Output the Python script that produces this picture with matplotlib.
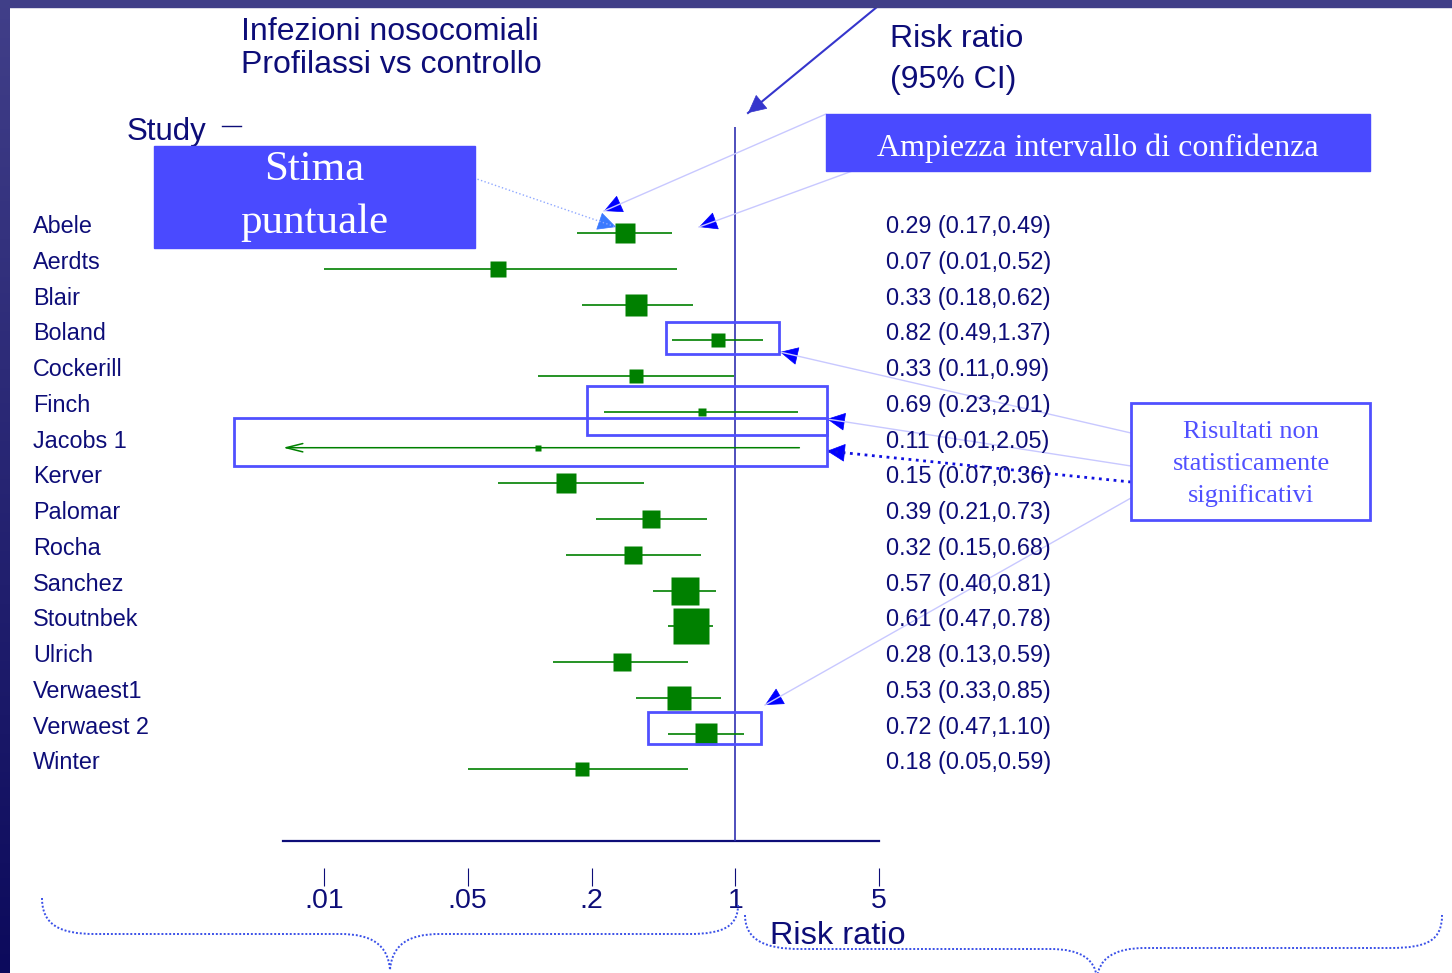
import numpy as np
import matplotlib
matplotlib.use("Agg")
import matplotlib.pyplot as plt
import matplotlib.transforms as mtrans
from matplotlib.patches import Rectangle, PathPatch
from matplotlib.path import Path
from matplotlib.ticker import NullLocator

# Studies: risk ratio, 95% CI and relative weight (%)
studies = ["Abele", "Aerdts", "Blair", "Boland", "Cockerill", "Finch", "Jacobs 1",
           "Kerver", "Palomar", "Rocha", "Sanchez", "Stoutnbek", "Ulrich",
           "Verwaest1", "Verwaest 2", "Winter"]
rr = [0.29, 0.07, 0.33, 0.82, 0.33, 0.69, 0.11, 0.15, 0.39, 0.32, 0.57, 0.61,
      0.28, 0.53, 0.72, 0.18]
ci_low = [0.17, 0.01, 0.18, 0.49, 0.11, 0.23, 0.01, 0.07, 0.21, 0.15, 0.40, 0.47,
          0.13, 0.33, 0.47, 0.05]
ci_high = [0.49, 0.52, 0.62, 1.37, 0.99, 2.01, 2.05, 0.36, 0.73, 0.68, 0.81, 0.78,
           0.59, 0.85, 1.10, 0.59]
weight = [6.1, 3.9, 7.4, 3.0, 2.6, 1.2, 0.7, 6.7, 5.5, 4.9, 12.8, 20.8, 4.9, 8.8,
          7.4, 3.4]
off_scale = ["Jacobs 1"]  # lower limit runs past the left edge of the scale

xticks = [0.01, 0.05, 0.2, 1, 5]
xticklabels = [".01", ".05", ".2", "1", "5"]

W, H, DPI = 1452, 973, 100
NAVY = "#0d0d78"
GREEN = "#008000"
BOXBLUE = "#4a4aff"
LINEBLUE = "#5050ff"

plt.rcParams["font.family"] = ["Liberation Sans", "DejaVu Sans"]
fig = plt.figure(figsize=(W / DPI, H / DPI), dpi=DPI, facecolor="white")


def fp(x, y):
    # pixel position (from top-left) -> figure fraction
    return x / W, 1 - y / H


# slide frame: gradient bar on the left, flat bar on top
bar = fig.add_axes([0, 0, 10 / W, 1])
grad = np.linspace(0, 1, 256)[:, None]
top_c = np.array([0x41, 0x3f, 0x89]) / 255
bot_c = np.array([0x0c, 0x0a, 0x5c]) / 255
bar.imshow(top_c + grad[..., None] * (bot_c - top_c), aspect="auto")
bar.axis("off")
fig.patches.append(Rectangle(fp(0, 7), 1, 7 / H, transform=fig.transFigure,
                             color="#403f88", zorder=5))

# forest plot axes (log risk ratio scale)
x0, x1, y_top, y_bot = 283, 879, 127, 841
ax = fig.add_axes([x0 / W, 1 - y_bot / H, (x1 - x0) / W, (y_bot - y_top) / H])
ax.set_xscale("log")
xmin = 0.01 * 10 ** (-(324 - 283) / 206)
ax.set_xlim(xmin, 5)
ax.set_ylim(17.0, -2.97)
ax.patch.set_alpha(0)
for s in ["top", "left", "right"]:
    ax.spines[s].set_visible(False)
ax.spines["bottom"].set_position(("outward", 19.4))
ax.spines["bottom"].set_visible(False)
ax.set_yticks([])
ax.set_xticks(xticks)
ax.set_xticklabels(xticklabels)
ax.xaxis.set_minor_locator(NullLocator())
ax.tick_params(axis="x", direction="out", length=13, width=0.8, color=NAVY,
               labelcolor=NAVY, labelsize=20.5, pad=1.5)

ax.axhline(17.0, color=NAVY, lw=1.6, clip_on=False)
ax.axvline(1, color="#3030b0", lw=1.2)

rows = np.arange(len(studies))
for i, name in enumerate(studies):
    if name in off_scale:
        ax.annotate("", xy=(xmin, rows[i]), xytext=(ci_high[i], rows[i]),
                    arrowprops=dict(arrowstyle="->,head_length=1.2,head_width=0.3",
                                    color=GREEN, lw=1.1, mutation_scale=10,
                                    shrinkA=0, shrinkB=0))
    else:
        ax.hlines(rows[i], ci_low[i], ci_high[i], color=GREEN, lw=1.2)
    side_pt = 8.1 * np.sqrt(weight[i]) * 72 / DPI
    ax.plot(rr[i], rows[i], marker="s", ms=side_pt, color=GREEN, mec="none")

# study names and estimates, on the row baselines
tr = mtrans.blended_transform_factory(fig.transFigure, ax.transData)
for i, name in enumerate(studies):
    fig.text(33 / W, rows[i], name, transform=tr, fontsize=16.8, color=NAVY,
             va="baseline")
    fig.text(886 / W, rows[i], f"{rr[i]:.2f} ({ci_low[i]:.2f},{ci_high[i]:.2f})",
             transform=tr, fontsize=16.8, color=NAVY, va="baseline")

# headings
fig.text(*fp(241, 40), "Infezioni nosocomiali", fontsize=23, color=NAVY, va="baseline")
fig.text(*fp(241, 73), "Profilassi vs controllo", fontsize=23, color=NAVY, va="baseline")
fig.text(*fp(890, 47), "Risk ratio", fontsize=23, color=NAVY, va="baseline")
fig.text(*fp(890, 88), "(95% CI)", fontsize=23, color=NAVY, va="baseline")
fig.text(*fp(127, 140), "Study", fontsize=22.5, color=NAVY, va="baseline")
fig.add_artist(plt.Line2D([222 / W, 241 / W], [1 - 126 / H] * 2, color=NAVY, lw=1))
fig.text(*fp(770, 944), "Risk ratio", fontsize=23.4, color=NAVY, va="baseline")


def box(x, y, w, h, **kw):
    fig.patches.append(Rectangle(fp(x, y + h), w / W, h / H,
                                 transform=fig.transFigure, **kw))


def arrow(start, tip, line_color, head_color, ls="-", lw=1.0):
    (sx, sy), (tx, ty) = fp(*start), fp(*tip)
    fig.add_artist(plt.Line2D([sx, tx], [sy, ty], color=line_color, lw=lw, ls=ls))
    d = np.array(tip, float) - np.array(start, float)
    back = np.array(tip) - d / np.hypot(*d) * 15
    fig.add_artist(matplotlib.patches.FancyArrowPatch(
        fp(*back), fp(*tip), transform=fig.transFigure,
        arrowstyle="-|>,head_length=0.6,head_width=0.3", mutation_scale=20,
        color=head_color, lw=0.5, shrinkA=0, shrinkB=0))


# callout boxes
box(154, 146, 321, 102, color=BOXBLUE, zorder=4)
fig.text(*fp(314, 180), "Stima", family="Liberation Serif", fontsize=31,
         color="white", ha="center", va="baseline", zorder=6)
fig.text(*fp(314, 233), "puntuale", family="Liberation Serif", fontsize=31,
         color="white", ha="center", va="baseline", zorder=6)

box(826, 114, 544, 57, color=BOXBLUE, zorder=4)
fig.text(*fp(1098, 148), "Ampiezza intervallo di confidenza",
         family="Liberation Serif", fontsize=23, color="white",
         ha="center", va="center", zorder=6)

box(1131, 403, 239, 117, fc="white", ec=LINEBLUE, lw=2, zorder=4)
for k, line in enumerate(["Risultati non", "statisticamente", "significativi"]):
    fig.text(*fp(1251, 438 + 32 * k), line, family="Liberation Serif",
             fontsize=19, color=LINEBLUE, ha="center", va="baseline", zorder=6)

# frames around the non-significant studies
for bx, by, bw, bh in [(666, 322, 113, 32), (587, 386, 240, 49),
                       (234, 418, 593, 48), (648, 712, 113, 32)]:
    box(bx, by, bw, bh, fill=False, ec=LINEBLUE, lw=2, zorder=4)

# pointers
arrow((883, 2), (748, 113), "#3535cc", "#3535cc", lw=1.5)
arrow((474, 178), (616, 227), "#8fa8ff", "#3a7aff", ls=":")
arrow((826, 114), (604, 211), "#c8c8ff", "#0000ff")
arrow((877, 162), (699, 227), "#c8c8ff", "#0000ff")
arrow((1131, 433), (780, 352), "#c8c8ff", "#0000ff")
arrow((1131, 466), (827, 419), "#c8c8ff", "#0000ff")
arrow((1131, 482), (827, 451), "#1010e0", "#0000ff", ls=":", lw=2)
arrow((1131, 498), (765, 705), "#c8c8ff", "#0000ff")


def brace(pts):
    verts = [fp(*p) for p in pts]
    codes = [Path.MOVETO] + [Path.CURVE4] * 3 + [Path.LINETO] + [Path.CURVE4] * 3 \
        + [Path.CURVE4] * 3 + [Path.LINETO] + [Path.CURVE4] * 3
    fig.patches.append(PathPatch(Path(verts, codes), transform=fig.transFigure,
                                 fill=False, ec="#3a50e8", lw=1.4, ls=(0, (1, 1))))


brace([(42, 898), (42, 925), (60, 934), (95, 934), (340, 934),
       (372, 934), (388, 945), (390, 970),
       (392, 945), (408, 934), (440, 934), (690, 934),
       (725, 934), (738, 925), (738, 905)])
brace([(745, 915), (745, 940), (765, 949), (800, 949), (1050, 949),
       (1082, 949), (1095, 960), (1097, 978),
       (1099, 960), (1112, 948), (1145, 948), (1390, 948),
       (1428, 948), (1442, 940), (1442, 915)])

fig.savefig("out.png", dpi=DPI, facecolor="white")
